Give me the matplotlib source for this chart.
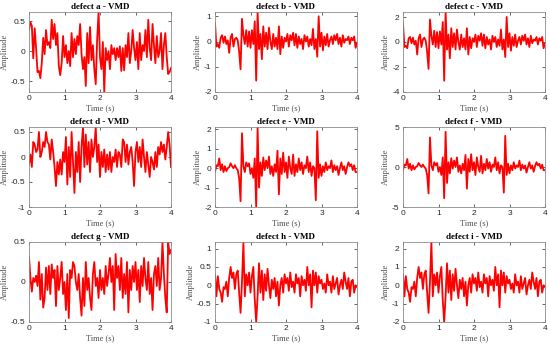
import numpy as np
import matplotlib
matplotlib.use("Agg")
import matplotlib.pyplot as plt

# time axis, 0..4 s
t = np.linspace(0, 4, 101)

titles = ["defect a - VMD", "defect b - VMD", "defect c - VMD",
          "defect d - VMD", "defect e - VMD", "defect f - VMD",
          "defect g - VMD", "defect h - VMD", "defect i - VMD"]

sig_a = [0.35, 0.48, 0.42, -0.12, 0.38, 0.05, -0.35, -0.33, -0.45, -0.2,
         0.22, -0.05, 0.35, 0.1, 0.15, 0.05, 0.52, 0.2, 0.45, 0.1,
         0.3, -0.25, -0.4, -0.2, 0.25, -0.1, 0.1, -0.2, 0.0, -0.25,
         0.3, -0.1, 0.2, -0.05, 0.25, 0.1, 0.45, -0.05, -0.3, -0.1,
         -0.58, 0.3, -0.2, 0.4, -0.15, 0.1, -0.3, -0.55, 0.2, 0.65,
         -0.1, -0.3, 0.15, -0.68, 0.05, -0.15, 0.0, -0.3, 0.1, -0.05,
         0.05, -0.15, 0.05, -0.1, 0.08, -0.33, 0.05, -0.32, 0.1, -0.1,
         0.3, -0.2, 0.0, 0.35, 0.05, -0.15, 0.15, -0.3, 0.3, -0.15,
         0.1, 0.0, 0.35, -0.1, 0.52, 0.05, -0.15, 0.45, 0.1, -0.2,
         0.25, -0.1, 0.0, 0.3, -0.3, 0.1, 0.3, -0.1, -0.38, -0.35,
         -0.28]

sig_b = [0.75, -0.2, -0.1, -0.25, 0.15, 0.25, -0.05, 0.2, -0.1, 0.05,
         -0.45, 0.15, 0.3, -0.2, 0.1, 0.15, 0.05, -0.4, -1.1, 0.9,
         0.25, -0.1, 0.45, -0.2, 0.4, -0.25, 0.45, -0.1, 0.8, -1.55,
         1.17, -0.3, 0.3, -0.7, 0.6, -0.2, 0.35, -0.3, 0.55, 0.0,
         -0.3, 0.3, -0.2, 0.15, -0.3, 0.6, -0.5, 0.2, -0.25, 0.15,
         0.0, 0.3, -0.2, 0.25, 0.05, 0.35, -0.15, 0.3, -0.25, 0.2,
         -0.1, 0.1, -0.3, 0.25, 0.0, 0.2, -0.2, 0.1, -0.15, 0.5,
         -0.3, 0.1, -0.6, 1.0, -0.2, 0.35, -0.35, 0.2, -0.15, 0.3,
         -0.2, 0.05, 0.2, -0.1, 0.25, 0.05, 0.3, -0.1, 0.15, -0.2,
         0.25, -0.05, 0.1, 0.05, 0.2, -0.1, 0.15, 0.05, 0.2, -0.25,
         -0.05]

sig_c = [1.5, -0.4, -0.3, -0.5, 0.3, 0.4, -0.1, 0.35, -0.2, 0.1,
         -1.0, 0.3, 0.6, -0.4, 0.2, 0.35, 0.1, -0.8, -2.15, 1.8,
         0.5, -0.2, 0.9, -0.4, 0.8, -0.5, 0.85, -0.2, 1.6, -3.1,
         2.4, -0.6, 0.6, -1.3, 1.1, -0.4, 0.7, -0.6, 1.0, 0.0,
         -0.6, 0.6, -0.4, 0.3, -0.6, 1.1, -1.0, 0.4, -0.5, 0.3,
         0.0, 0.6, -0.4, 0.5, 0.1, 0.7, -0.3, 0.6, -0.5, 0.4,
         -0.2, 0.2, -0.6, 0.5, 0.0, 0.4, -0.4, 0.2, -0.3, 1.0,
         -0.6, 0.2, -1.2, 2.0, -0.4, 0.7, -0.7, 0.4, -0.3, 0.6,
         -0.4, 0.1, 0.4, -0.2, 0.5, 0.1, 0.6, -0.2, 0.3, -0.4,
         0.5, -0.1, 0.2, 0.1, 0.4, -0.2, 0.3, 0.1, 0.4, -0.5,
         -0.1]

sig_d = [-0.15, 0.05, -0.2, 0.3, 0.25, 0.1, 0.15, 0.5, 0.0, 0.1,
         0.3, 0.2, 0.5, 0.3, 0.25, -0.05, 0.35, 0.1, -0.2, -0.58,
         -0.1, -0.35, -0.05, -0.35, 0.1, -0.1, 0.4, -0.55, 0.2, -0.4,
         0.5, -0.1, -0.72, 0.1, -0.3, 0.3, -0.5, 0.2, 0.6, -0.2,
         0.45, -0.15, 0.3, -0.3, 0.35, 0.0, 0.2, 0.6, -0.1, 0.25,
         -0.4, 0.1, -0.2, 0.15, -0.3, 0.05, -0.25, 0.1, -0.3, 0.0,
         -0.1, 0.15, -0.2, 0.1, 0.05, -0.2, 0.35, 0.3, -0.1, 0.25,
         -0.15, 0.1, 0.2, -0.1, -0.58, 0.1, 0.3, -0.1, 0.2, -0.2,
         0.35, 0.0, -0.3, 0.1, -0.15, -0.4, 0.0, -0.1, -0.25, 0.1,
         -0.2, 0.2, 0.05, 0.3, 0.1, 0.25, -0.05, 0.2, 0.5, 0.25,
         -0.2]

sig_e = [-0.2, 0.15, 0.1, 0.5, -0.1, 0.2, -0.2, 0.1, -0.15, 0.0,
         0.05, 0.25, 0.1, 0.0, 0.15, 0.0, -0.1, -0.5, -1.7, 1.8,
         0.1, -0.2, 0.3, 0.1, 0.25, -0.3, 0.0, -0.5, 0.5, -2.0,
         2.12, -1.0, 0.3, -0.4, 0.55, -0.1, 0.4, 0.0, 0.6, -0.3,
         0.1, -0.4, 0.2, -0.2, 0.9, -1.35, 0.5, -0.3, 0.8, -0.2,
         0.3, -0.5, 0.6, 0.0, -0.3, 0.7, -0.4, 0.2, -0.2, 0.5,
         -0.1, 0.3, -0.3, 0.15, 0.0, 0.6, -0.2, 0.3, -0.4, 0.1,
         0.0, -1.65, 1.9, -0.5, 0.2, -0.4, 0.1, -0.2, 0.3, -0.1,
         0.1, 0.0, 0.4, -0.2, 0.15, -0.1, 0.1, -0.35, 0.0, 0.3,
         -0.1, 0.1, -0.3, 0.05, 0.3, 0.1, 0.2, -0.1, 0.15, -0.2,
         -0.2]

sig_f = [-0.4, 0.3, 0.2, 1.0, -0.2, 0.4, -0.4, 0.2, -0.3, 0.0,
         0.1, 0.5, 0.2, 0.0, 0.3, 0.0, -0.2, -1.0, -3.3, 3.7,
         0.2, -0.4, 0.6, 0.2, 0.5, -0.6, 0.0, -1.0, 1.2, -3.9,
         4.4, -2.0, 0.6, -0.8, 1.1, -0.2, 0.8, 0.0, 1.2, -0.6,
         0.2, -0.8, 0.4, -0.4, 1.5, -2.7, 1.0, -0.6, 1.6, -0.4,
         0.6, -1.0, 1.2, 0.0, -0.6, 1.4, -0.8, 0.4, -0.4, 1.0,
         -0.2, 0.6, -0.6, 0.3, 0.0, 1.2, -0.4, 0.6, -0.8, 0.2,
         0.0, -3.2, 3.9, -1.0, 0.4, -0.8, 0.2, -0.4, 0.6, -0.2,
         0.2, 0.0, 0.8, -0.4, 0.3, -0.2, 0.2, -0.7, 0.0, 0.6,
         -0.2, 0.2, -0.6, 0.1, 0.6, 0.2, 0.4, -0.2, 0.3, -0.4,
         -0.4]

sig_g = [0.32, 0.05, -0.12, 0.05, 0.0, 0.08, -0.05, 0.25, -0.22, 0.1,
         -0.32, -0.2, 0.18, -0.1, 0.2, -0.15, 0.22, 0.05, 0.15, -0.3,
         0.2, -0.1, 0.05, 0.25, -0.15, 0.0, -0.35, 0.1, -0.45, 0.15,
         0.05, 0.25, 0.2, 0.0, -0.1, 0.1, -0.2, -0.42, 0.05, -0.3,
         0.25, -0.1, 0.05, -0.2, -0.35, 0.1, 0.25, -0.05, 0.05, -0.2,
         0.15, -0.1, 0.05, -0.15, 0.2, -0.05, 0.1, 0.3, 0.0, 0.2,
         -0.35, 0.35, 0.05, 0.2, -0.1, 0.3, -0.2, 0.1, -0.15, 0.25,
         -0.38, 0.15, -0.1, 0.2, 0.0, 0.25, -0.1, 0.15, -0.25, 0.2,
         -0.05, 0.3, 0.05, -0.1, 0.25, -0.15, 0.05, -0.35, 0.1, 0.2,
         -0.05, 0.3, -0.1, 0.05, 0.5, 0.1, -0.2, -0.38, 0.5, 0.35,
         0.4]

sig_h = [0.3, -0.3, 0.25, -0.1, -0.2, -0.45, -0.05, -0.1, 0.1, -0.3,
         0.2, 0.5, 0.2, 0.35, -0.1, 0.3, 0.4, -0.2, -0.75, 0.1,
         1.18, -0.3, 0.3, 0.0, 0.35, -0.2, 0.25, 0.5, -0.4, -1.0,
         -0.3, 0.6, -0.2, 0.4, -0.4, 0.3, -0.15, 0.45, 0.0, -0.35,
         0.15, -0.1, 0.2, -0.3, 0.1, -0.55, 0.0, 0.2, -0.2, 0.3,
         0.05, 0.2, -0.15, 0.35, -0.05, 0.1, -0.2, 0.3, 0.05, 0.2,
         -0.3, 0.25, 0.0, 0.15, -0.15, 0.5, 0.0, 0.3, -0.6, 0.4,
         0.0, 0.35, -0.2, 0.25, 0.05, 0.15, -0.1, 0.05, -0.2, 0.3,
         0.0, 0.1, -0.2, 0.25, -0.1, 0.05, 0.2, -0.25, 0.0, 0.15,
         -0.1, 0.35, 0.1, -0.1, 0.2, -0.3, 0.1, 0.15, -0.2, 0.0,
         -0.05]

sig_i = [0.6, -0.6, 0.5, -0.2, -0.4, -0.9, -0.1, -0.2, 0.2, -0.6,
         0.4, 1.0, 0.4, 0.7, -0.2, 0.6, 0.8, -0.4, -1.5, 0.2,
         2.36, -0.6, 0.6, 0.0, 0.7, -0.4, 0.5, 1.0, -0.8, -2.0,
         -0.6, 1.2, -0.4, 0.8, -0.8, 0.6, -0.3, 0.9, 0.0, -0.7,
         0.3, -0.2, 0.4, -0.6, 0.2, -1.1, 0.0, 0.4, -0.4, 0.6,
         0.1, 0.4, -0.3, 0.7, -0.1, 0.2, -0.4, 0.6, 0.1, 0.4,
         -0.6, 0.5, 0.0, 0.3, -0.3, 1.0, 0.0, 0.6, -1.2, 0.8,
         0.0, 0.7, -0.4, 0.5, 0.1, 0.3, -0.2, 0.1, -0.4, 0.6,
         0.0, 0.2, -0.4, 0.5, -0.2, 0.1, 0.4, -0.5, 0.0, 0.3,
         -0.2, 0.7, 0.2, -0.2, 0.4, -0.6, 0.2, 0.3, -0.4, 0.0,
         -0.1]

signals = [sig_a, sig_b, sig_c, sig_d, sig_e, sig_f, sig_g, sig_h, sig_i]

ylims = [(-0.68, 0.65), (-2, 1.17), (-4, 2.4),
         (-1, 0.6), (-2, 2.12), (-5, 5),
         (-0.5, 0.5), (-1, 1.18), (-2, 2.36)]
yticks = [[-0.5, 0, 0.5], [-2, -1, 0, 1], [-4, -2, 0, 2],
          [-1, -0.5, 0, 0.5], [-2, -1, 0, 1, 2], [-5, 0, 5],
          [-0.5, 0, 0.5], [-1, -0.5, 0, 0.5, 1], [-2, -1, 0, 1, 2]]

fig = plt.figure(figsize=(5.5, 3.47), dpi=100)
W, H = 550.0, 347.0
lefts = [29, 215, 403]
bottoms = [92, 207, 322]
aw, ah = 142, 80

serif = "Liberation Serif"
sans = "Liberation Sans"
grey = "#4d4d4d"

for k in range(9):
    r, c = divmod(k, 3)
    ax = fig.add_axes([lefts[c] / W, 1 - bottoms[r] / H, aw / W, ah / H])
    ax.plot(t, signals[k], color="red", lw=1.3)
    ax.set_xlim(0, 4)
    ax.set_ylim(*ylims[k])
    ax.set_xticks([0, 1, 2, 3, 4])
    ax.set_yticks(yticks[k])
    ax.set_yticklabels([f"{v:g}" for v in yticks[k]])
    ax.tick_params(direction="in", length=2, width=0.5, top=True, right=True,
                   labelsize=6, colors="#262626", pad=2.5)
    for lab in ax.get_xticklabels() + ax.get_yticklabels():
        lab.set_fontfamily(sans)
    for sp in ax.spines.values():
        sp.set_color("#8c8c8c")
        sp.set_linewidth(0.6)
    ax.set_title(titles[k], fontfamily=serif, fontweight="bold",
                 fontsize=6.5, pad=2)
    ax.set_xlabel("Time (s)", fontfamily=serif, fontsize=6, color=grey,
                  labelpad=1.5)
    ax.set_ylabel("Amplitude", fontfamily=serif, fontsize=6, color=grey,
                  labelpad=1.5)

fig.savefig("out.png", dpi=100)
